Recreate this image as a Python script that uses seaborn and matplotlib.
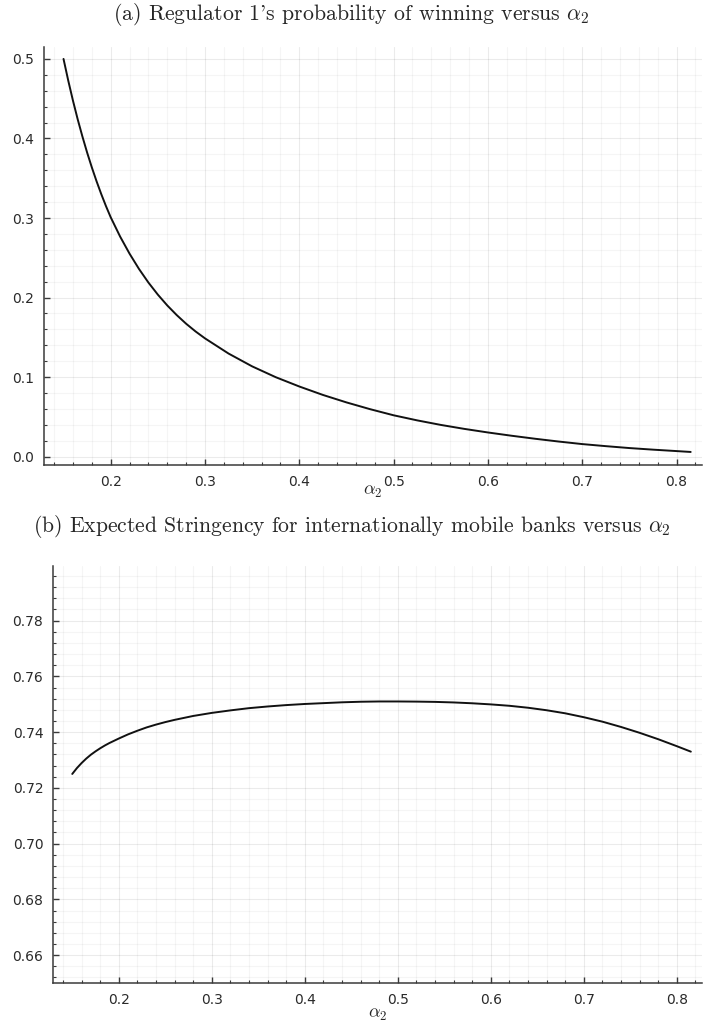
import numpy as np
import pandas as pd
import matplotlib
matplotlib.use("Agg")
import matplotlib.pyplot as plt
from matplotlib.ticker import MultipleLocator, FormatStrFormatter
import seaborn as sns

# ---- data ----
alpha2_a = [0.150, 0.155, 0.160, 0.165, 0.170, 0.175, 0.180, 0.185, 0.190, 0.195,
            0.200, 0.210, 0.220, 0.230, 0.240, 0.250, 0.260, 0.270, 0.280, 0.290,
            0.300, 0.325, 0.350, 0.375, 0.400, 0.425, 0.450, 0.475, 0.500, 0.525,
            0.550, 0.575, 0.600, 0.625, 0.650, 0.675, 0.700, 0.725, 0.750, 0.775,
            0.800, 0.815]
prob_win = [0.5000, 0.4728, 0.4476, 0.4242, 0.4026, 0.3824, 0.3637, 0.3463, 0.3301, 0.3150,
            0.3010, 0.2767, 0.2552, 0.2360, 0.2189, 0.2037, 0.1901, 0.1780, 0.1671, 0.1574,
            0.1487, 0.1296, 0.1135, 0.0999, 0.0882, 0.0776, 0.0682, 0.0597, 0.0520, 0.0456,
            0.0399, 0.0349, 0.0304, 0.0263, 0.0225, 0.0190, 0.0158, 0.0132, 0.0108, 0.0088,
            0.0070, 0.0059]

alpha2_b = [0.150, 0.155, 0.160, 0.165, 0.170, 0.175, 0.180, 0.185, 0.190, 0.195,
            0.200, 0.210, 0.220, 0.230, 0.240, 0.250, 0.260, 0.280, 0.300, 0.320,
            0.340, 0.360, 0.380, 0.400, 0.420, 0.440, 0.460, 0.480, 0.500, 0.520,
            0.540, 0.560, 0.580, 0.600, 0.620, 0.640, 0.660, 0.680, 0.700, 0.720,
            0.740, 0.760, 0.780, 0.800, 0.815]
stringency = [0.7250, 0.7271, 0.7289, 0.7305, 0.7319, 0.7331, 0.7342, 0.7352, 0.7361, 0.7369,
              0.7377, 0.7392, 0.7405, 0.7417, 0.7427, 0.7436, 0.7444, 0.7458, 0.7469, 0.7478,
              0.7486, 0.7492, 0.7497, 0.7501, 0.7504, 0.7507, 0.7509, 0.7510, 0.7510, 0.75095,
              0.75085, 0.75065, 0.75035, 0.74995, 0.74945, 0.74875, 0.74785, 0.74675, 0.74535,
              0.74375, 0.74185, 0.73975, 0.73745, 0.73495, 0.7330]

title_a = r"(a) Regulator 1's probability of winning versus $\alpha_2$"
title_b = r"(b) Expected Stringency for internationally mobile banks versus $\alpha_2$"
xlabel = r"$\alpha_2$"

# ---- style ----
sns.set_theme(style="white")
plt.rcParams["font.family"] = ["DejaVu Sans"]
plt.rcParams["mathtext.fontset"] = "cm"
plt.rcParams["axes.unicode_minus"] = False

W, H = 703, 1031
fig = plt.figure(figsize=(W / 100, H / 100), dpi=100)

def px_axes(left, top, right, bottom):
    return fig.add_axes([left / W, 1 - bottom / H, (right - left) / W, (bottom - top) / H])

ax1 = px_axes(44, 47, 702, 465)
ax2 = px_axes(53, 566, 702, 983)

df_a = pd.DataFrame({"alpha2": alpha2_a, "p": prob_win})
df_b = pd.DataFrame({"alpha2": alpha2_b, "s": stringency})

sns.lineplot(data=df_a, x="alpha2", y="p", ax=ax1, color="#111111", linewidth=1.4)
sns.lineplot(data=df_b, x="alpha2", y="s", ax=ax2, color="#111111", linewidth=1.4)

spine_col = "#3a3a3a"
for ax, (ylo, yhi), ymaj, ymin, yfmt, lab_off in [
    (ax1, (-0.0105, 0.515), 0.1, 0.02, "%.1f", 26),
    (ax2, (0.650, 0.7996), 0.02, 0.004, "%.2f", 31),
]:
    ax.set_xlim(0.1293, 0.827)
    ax.set_ylim(ylo, yhi)
    ax.xaxis.set_major_locator(MultipleLocator(0.1))
    ax.xaxis.set_minor_locator(MultipleLocator(0.02))
    ax.yaxis.set_major_locator(MultipleLocator(ymaj))
    ax.yaxis.set_minor_locator(MultipleLocator(ymin))
    ax.xaxis.set_major_formatter(FormatStrFormatter("%.1f"))
    ax.yaxis.set_major_formatter(FormatStrFormatter(yfmt))
    ax.grid(True, which="major", color="#000000", alpha=0.08, linewidth=0.8)
    ax.grid(True, which="minor", color="#000000", alpha=0.04, linewidth=0.8)
    ax.set_axisbelow(True)
    for s in ["top", "right"]:
        ax.spines[s].set_visible(False)
    for s in ["left", "bottom"]:
        ax.spines[s].set_color(spine_col)
        ax.spines[s].set_linewidth(1.1)
    ax.tick_params(which="major", direction="in", length=4, width=1.0, color=spine_col,
                   labelsize=10, labelcolor="#2a2a2a", pad=7, left=True, bottom=True)
    ax.tick_params(which="minor", direction="in", length=2, width=0.8, color=spine_col,
                   left=True, bottom=True)
    ax.set_ylabel("")
    ax.set_xlabel(xlabel, fontsize=13)
    ax.xaxis.label.set_va("center")
    ax.xaxis.set_label_coords(0.5, -lab_off / 418)

fig.text(0.5, 1 - 14 / H, title_a, ha="center", va="center", fontsize=15.7, family="cmr10")
fig.text(0.5, 1 - 527 / H, title_b, ha="center", va="center", fontsize=15.6, family="cmr10")

fig.savefig("out.png", dpi=100)
